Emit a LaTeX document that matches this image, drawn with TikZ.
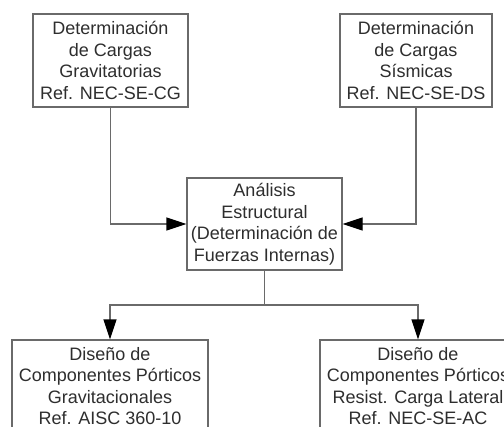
\documentclass[tikz,border=0pt]{standalone}
\usepackage{fontspec}
\setmainfont{Liberation Sans}
\usetikzlibrary{arrows.meta}
\definecolor{linegray}{HTML}{6A6A6A}
\definecolor{textgray}{HTML}{2E2E2E}
\tikzset{
  procbox/.style={draw=linegray, line width=1.3bp, fill=white, text=textgray,
    align=center, inner sep=0pt, minimum height=93bp,
    font=\fontsize{18bp}{21.5bp}\selectfont},
  flow/.style={draw=linegray, line width=1.3bp,
    -{Triangle[length=20bp, width=13bp, fill=black, color=black]}},
  link/.style={draw=linegray, line width=1.3bp}
}
\begin{document}
\begin{tikzpicture}[x=1bp, y=-1bp]
  \useasboundingbox (0,0) rectangle (504,426);
  \clip (0,0) rectangle (504,426);
  \fill[white] (0,0) rectangle (504,426);

  % load determination boxes
  \node[procbox, minimum width=155bp] (grav) at (110.5,60.5)
    {Determinación\\de Cargas\\Gravitatorias\\Ref. NEC-SE-CG};
  \node[procbox, minimum width=152bp] (sism) at (416,60.5)
    {Determinación\\de Cargas\\Sísmicas\\Ref. NEC-SE-DS};

  % structural analysis
  \node[procbox, minimum width=155bp, minimum height=92bp] (anal) at (264.5,224)
    {Análisis\\Estructural\\(Determinación de\\Fuerzas Internas)};

  % design boxes
  \node[procbox, minimum width=196bp, minimum height=92bp] (dgrav) at (110,386)
    {Diseño de\\Componentes Pórticos\\Gravitacionales\\Ref. AISC 360-10};
  \node[procbox, minimum width=196bp, minimum height=92bp] (dlat) at (418,386)
    {Diseño de\\Componentes Pórticos\\Resist. Carga Lateral\\Ref. NEC-SE-AC};

  \coordinate (split) at (264.5,305);

  % connectors
  \draw[flow] (grav.south) |- (anal.west);
  \draw[flow] (sism.south) |- (anal.east);
  \draw[link] (anal.south) -- (split);
  \draw[flow] (split) -| (dgrav.north);
  \draw[flow] (split) -| (dlat.north);
\end{tikzpicture}
\end{document}
